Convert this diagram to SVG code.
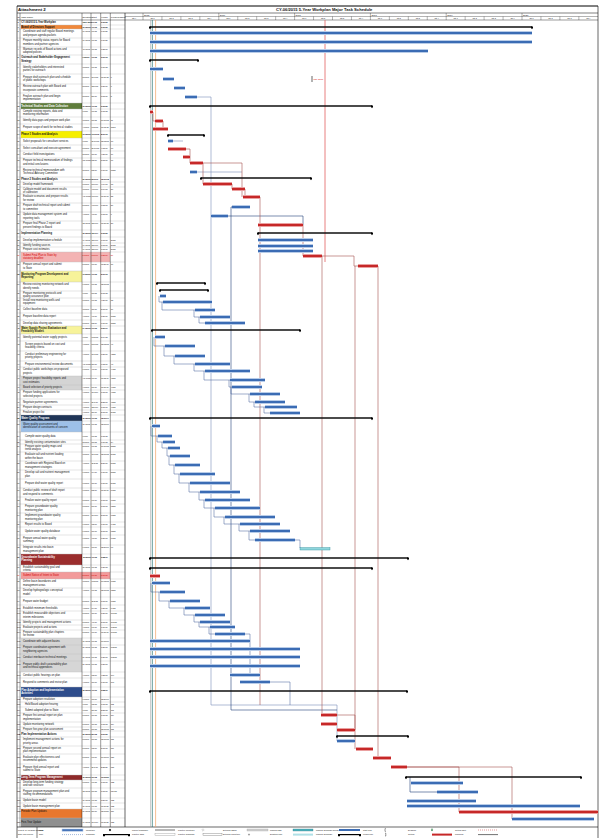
<svg xmlns="http://www.w3.org/2000/svg" width="602" height="840" viewBox="0 0 602 840">
<style>
.t{font-family:"Liberation Sans",Arial,sans-serif;font-size:2.6px;fill:#111}
.b{font-weight:bold}
.w{fill:#fff}
.rt{fill:#d40000}
.s{font-size:2px}
.i{font-size:2.1px}
.hd{font-family:"Liberation Sans",Arial,sans-serif;font-size:2.4px;fill:#111}
.q{font-family:"Liberation Sans",Arial,sans-serif;font-size:1.9px;fill:#111;text-anchor:middle}
.ln{stroke:#000;fill:none}
.g{stroke:#bdbdbd;stroke-width:0.4;fill:none}
.lg{font-family:"Liberation Sans",Arial,sans-serif;font-size:2.1px;fill:#111}
</style>
<defs>
<marker id="cap" markerUnits="userSpaceOnUse" markerWidth="3" markerHeight="4" refX="1" refY="0.6" orient="0" overflow="visible"><path d="M0 0H2V1.6L1 2.8L0 1.6Z" fill="#000"/></marker>
<path id="bB" fill="none" d="M150 33H532M150 42H532M150 51H428M150 69H163M163 79H174M174 88H185M185 97H197M168 141H173M190 172H197M232 207H250M211 216H228M258 240H313M258 246H313M258 251H313M160 296H166M163 302H212M195 310H215M200 317H230M205 323H245M155 337H165M165 346H195M175 356H205M195 364H230M205 371H250M230 380H265M232 387H262M250 394H280M255 402H285M265 407H297M270 413H300M152 426H160M158 436H172M163 442H175M168 448H180M170 456H190M175 465H200M180 474H215M190 483H230M200 492H240M205 500H250M215 508H260M225 517H275M240 524H280M250 531H290M255 540H295M152 583H170M160 592H185M170 601H200M185 608H210M195 615H225M200 622H230M210 627H235M215 634H245M150 641H250M150 649H300M150 657H300M150 666H300M230 675H260M240 682H270M337 741H355M411 783H463M437 792H478M407 801H476M407 806H580M512 819H594"/>
<path id="rB" fill="none" d="M150 112H153M155 121H163M153 129H168M168 149H186M183 157H190M190 163H203M203 184H232M232 189H245M243 197H260M258 225H303M303 256H322M358 266H378M150 576H160M321 715H337M321 724H337M337 730H355M356 749H373M373 758H391M391 767H407M459 812H598"/>
<path id="kB" fill="none" d="M150 27H532M150 60H198M150 106H372M168 135H204M201 178H311M258 233H372M157 283H205M160 290H208M152 330H300M150 418H372M150 558H408M150 568H372M150 691H407M337 736H408M406 777H581"/>
</defs>
<rect width="602" height="840" fill="#fff"/>

<g id="header">
<line x1="17" y1="6" x2="598" y2="6" stroke="#000" stroke-width="1"/>
<text class="t b" x="18" y="11.3" style="font-size:4.4px">Attachment 2</text>
<text class="t b" x="276" y="11.3" style="font-size:4.1px">CY-06/2015 5-Year Workplan Major Task Schedule</text>
<line x1="17" y1="13" x2="598" y2="13" stroke="#000" stroke-width="0.5"/>
<text class="hd" y="17.8"><tspan x="17.3">ID</tspan><tspan x="21.2">Task Name</tspan><tspan x="82.4">Duration</tspan><tspan x="91.6">Start</tspan><tspan x="101.2">Finish</tspan><tspan x="110.8">Predecessors</tspan></text>
<path class="ln" stroke-width="0.3" d="M125 16.5H598M143 13V20M218.8 13V20M294.6 13V20M370.4 13V20M446.2 13V20M522 13V20M161.95 16.5V20M180.9 16.5V20M199.85 16.5V20M237.75 16.5V20M256.7 16.5V20M275.65 16.5V20M313.55 16.5V20M332.5 16.5V20M351.45 16.5V20M389.35 16.5V20M408.3 16.5V20M427.25 16.5V20M465.15 16.5V20M484.1 16.5V20M503.05 16.5V20M540.95 16.5V20M559.9 16.5V20M578.85 16.5V20"/>
<g class="hd"><text x="144" y="15.7">2015</text><text x="219.8" y="15.7">2016</text><text x="295.6" y="15.7">2017</text><text x="371.4" y="15.7">2018</text><text x="447.2" y="15.7">2019</text><text x="523" y="15.7">2020</text></g>
<g class="q">
<text x="134" y="19.2">Qtr 4</text><text x="152.5" y="19.2">Qtr 1</text><text x="171.4" y="19.2">Qtr 2</text><text x="190.4" y="19.2">Qtr 3</text><text x="209.3" y="19.2">Qtr 4</text><text x="228.3" y="19.2">Qtr 1</text><text x="247.2" y="19.2">Qtr 2</text><text x="266.2" y="19.2">Qtr 3</text><text x="285.1" y="19.2">Qtr 4</text><text x="304.1" y="19.2">Qtr 1</text><text x="323" y="19.2">Qtr 2</text><text x="342" y="19.2">Qtr 3</text><text x="360.9" y="19.2">Qtr 4</text><text x="379.9" y="19.2">Qtr 1</text><text x="398.8" y="19.2">Qtr 2</text><text x="417.8" y="19.2">Qtr 3</text><text x="436.7" y="19.2">Qtr 4</text><text x="455.7" y="19.2">Qtr 1</text><text x="474.6" y="19.2">Qtr 2</text><text x="493.6" y="19.2">Qtr 3</text><text x="512.5" y="19.2">Qtr 4</text><text x="531.5" y="19.2">Qtr 1</text><text x="550.4" y="19.2">Qtr 2</text><text x="569.4" y="19.2">Qtr 3</text><text x="588.3" y="19.2">Qtr 4</text>
</g>
<line x1="17" y1="20" x2="598" y2="20" stroke="#000" stroke-width="0.4"/>
</g>

<g id="highlights">
<rect x="21" y="25" width="61" height="4" fill="#f0883a"/>
<rect x="21" y="103" width="61" height="6" fill="#5f7d3c"/>
<rect x="21" y="131" width="61" height="7" fill="#f6ef00"/>
<rect x="21" y="252" width="89" height="10" fill="#f3b3b3"/>
<rect x="21" y="271" width="61" height="11" fill="#f7f39a"/>
<rect x="21" y="326" width="61" height="8" fill="#f7f39a"/>
<rect x="21" y="376" width="61" height="14" fill="#d4d4d4"/>
<rect x="21" y="415" width="61" height="6" fill="#1f3557"/>
<rect x="21" y="421" width="61" height="11" fill="#9dc0e8"/>
<rect x="21" y="554" width="61" height="11" fill="#9b2d2d"/>
<rect x="21" y="572" width="89" height="7" fill="#f29a9a"/>
<rect x="21" y="638" width="61" height="34" fill="#d6d6d6"/>
<rect x="21" y="687" width="61" height="10" fill="#2e4d8c"/>
<rect x="21" y="775" width="61" height="5" fill="#8e2a2a"/>
<rect x="21" y="809" width="61" height="9" fill="#e8772e"/>
<rect x="21" y="818" width="61" height="9" fill="#8f8f8f"/>
</g>

<g id="grid">
<path class="g" d="M17 25H125M17 29H125M17 38H125M17 47H125M17 55H125M17 64H125M17 74H125M17 84H125M17 93H125M17 103H125M17 109H125M17 117H125M17 124H125M17 131H125M17 138H125M17 145H125M17 151H125M17 158H125M17 167H125M17 177H125M17 182H125M17 187H125M17 194H125M17 203H125M17 212H125M17 221H125M17 230H125M17 237H125M17 243H125M17 247H125M17 252H125M17 262H125M17 271H125M17 282H125M17 291H125M17 298H125M17 306H125M17 313H125M17 320H125M17 326H125M17 334H125M17 341H125M17 351H125M17 361H125M17 367H125M17 376H125M17 385H125M17 390H125M17 399H125M17 405H125M17 410H125M17 415H125M17 421H125M17 432H125M17 440H125M17 444H125M17 452H125M17 461H125M17 470H125M17 479H125M17 488H125M17 497H125M17 504H125M17 513H125M17 522H125M17 527H125M17 535H125M17 545H125M17 554H125M17 565H125M17 572H125M17 579H125M17 588H125M17 597H125M17 605H125M17 611H125M17 620H125M17 625H125M17 630H125M17 638H125M17 645H125M17 654H125M17 661H125M17 672H125M17 678H125M17 687H125M17 697H125M17 702H125M17 707H125M17 713H125M17 722H125M17 727H125M17 731H125M17 737H125M17 746H125M17 754H125M17 764H125M17 775H125M17 780H125M17 788H125M17 798H125M17 803H125M17 809H125M17 818H125"/>
<path class="ln" stroke-width="0.4" d="M20 13V827M82 13V827M91 13V827M100.7 13V827M110.3 13V827"/>
<path class="ln" stroke-width="0.6" d="M17 6V838M125 13V827M598 6V838M17 827H598"/>
</g>

<g id="rows">
<g id="r0"><text class="t b" y="23.4"><tspan class="i" x="17.4">0</tspan><tspan x="21.2">CY-06/2015 5-Year Workplan</tspan><tspan class="s" x="82.4">1260 days</tspan><tspan class="s" x="91.4">7/1/15</tspan><tspan class="s" x="101">6/30/20</tspan></text></g>
<g id="r1"><text class="t b" y="27.9"><tspan class="i" x="17.4">1</tspan><tspan x="21.2">Board of Directors Support</tspan><tspan class="s" x="82.4">60 mons</tspan><tspan class="s" x="91.4">7/1/15</tspan><tspan class="s" x="101">6/30/20</tspan></text></g>
<g id="r2"><text class="t" y="32.3"><tspan class="i" x="17.4">2</tspan><tspan x="23">Coordinate and staff regular Board meetings</tspan><tspan class="s" x="82.4">60 mons</tspan><tspan class="s" x="91.4">7/1/15</tspan><tspan class="s" x="101">6/30/20</tspan></text><text class="t" x="23" y="35.5">and prepare agenda packets</text></g>
<g id="r3"><text class="t" y="41.3"><tspan class="i" x="17.4">3</tspan><tspan x="23">Prepare monthly status reports for Board</tspan><tspan class="s" x="82.4">60 mons</tspan><tspan class="s" x="91.4">7/1/15</tspan><tspan class="s" x="101">6/30/20</tspan></text><text class="t" x="23" y="44.5">members and partner agencies</text></g>
<g id="r4"><text class="t" y="50.2"><tspan class="i" x="17.4">4</tspan><tspan x="23">Maintain records of Board actions and</tspan><tspan class="s" x="82.4">48 mons</tspan><tspan class="s" x="91.4">7/1/15</tspan><tspan class="s" x="101">6/28/19</tspan></text><text class="t" x="23" y="53.2">adopted policies</text></g>
<g id="r5"><text class="t b" y="58.3"><tspan class="i" x="17.4">5</tspan><tspan x="21.2">Outreach and Stakeholder Engagement</tspan><tspan class="s" x="82.4">9 mons</tspan><tspan class="s" x="91.4">7/1/15</tspan><tspan class="s" x="101">3/31/16</tspan></text><text class="t b" x="21.2" y="61.5">Strategy</text></g>
<g id="r6"><text class="t" y="67.6"><tspan class="i" x="17.4">6</tspan><tspan x="23">Identify stakeholders and interested</tspan><tspan class="s" x="82.4">3 mons</tspan><tspan class="s" x="91.4">7/1/15</tspan><tspan class="s" x="101">9/30/15</tspan></text><text class="t" x="23" y="70.8">parties for outreach</text></g>
<g id="r7"><text class="t" y="77.6"><tspan class="i" x="17.4">7</tspan><tspan x="23">Prepare draft outreach plan and schedule</tspan><tspan class="s" x="82.4">2 mons</tspan><tspan class="s" x="91.4">10/1/15</tspan><tspan class="s" x="101">11/30/15</tspan><tspan class="s" x="110.8">6</tspan></text><text class="t" x="23" y="80.8">of public workshops</text></g>
<g id="r8"><text class="t" y="87.3"><tspan class="i" x="17.4">8</tspan><tspan x="23">Review outreach plan with Board and</tspan><tspan class="s" x="82.4">2 mons</tspan><tspan class="s" x="91.4">12/1/15</tspan><tspan class="s" x="101">1/29/16</tspan><tspan class="s" x="110.8">7</tspan></text><text class="t" x="23" y="90.5">incorporate comments</text></g>
<g id="r9"><text class="t" y="96.6"><tspan class="i" x="17.4">9</tspan><tspan x="23">Finalize outreach plan and begin</tspan><tspan class="s" x="82.4">2 mons</tspan><tspan class="s" x="91.4">2/1/16</tspan><tspan class="s" x="101">3/31/16</tspan><tspan class="s" x="110.8">8</tspan></text><text class="t" x="23" y="99.8">implementation</text></g>
<g id="r10"><text class="t b" y="106.9"><tspan class="i" x="17.2">10</tspan><tspan class="w" x="21.2">Technical Studies and Data Collection</tspan><tspan class="s" x="82.4">60 mons</tspan><tspan class="s" x="91.4">7/1/15</tspan><tspan class="s" x="101">6/30/20</tspan></text></g>
<g id="r11"><text class="t" y="112.1"><tspan class="i" x="17.2">11</tspan><tspan x="23">Compile existing reports, data and</tspan><tspan class="s" x="82.4">1 mon</tspan><tspan class="s" x="91.4">7/1/15</tspan><tspan class="s" x="101">7/31/15</tspan></text><text class="t" x="23" y="115.1">monitoring information</text></g>
<g id="r12"><text class="t" y="121.4"><tspan class="i" x="17.2">12</tspan><tspan x="23">Identify data gaps and prepare work plan</tspan><tspan class="s" x="82.4">3 mons</tspan><tspan class="s" x="91.4">8/3/15</tspan><tspan class="s" x="101">10/30/15</tspan><tspan class="s" x="110.8">11</tspan></text></g>
<g id="r13"><text class="t" y="128.4"><tspan class="i" x="17.2">13</tspan><tspan x="23">Prepare scope of work for technical studies</tspan><tspan class="s" x="82.4">4 mons</tspan><tspan class="s" x="91.4">7/15/15</tspan><tspan class="s" x="101">11/13/15</tspan><tspan class="s" x="110.8">11SS</tspan></text></g>
<g id="r14"><text class="t b" y="135.4"><tspan class="i" x="17.2">14</tspan><tspan x="21.2">Phase 1 Studies and Analysis</tspan><tspan class="s" x="82.4">10 mons</tspan><tspan class="s" x="91.4">11/16/15</tspan><tspan class="s" x="101">8/31/16</tspan></text></g>
<g id="r15"><text class="t" y="142.4"><tspan class="i" x="17.2">15</tspan><tspan x="23">Solicit proposals for consultant services</tspan><tspan class="s" x="82.4">1 mon</tspan><tspan class="s" x="91.4">11/16/15</tspan><tspan class="s" x="101">12/15/15</tspan><tspan class="s" x="110.8">13</tspan></text></g>
<g id="r16"><text class="t" y="148.9"><tspan class="i" x="17.2">16</tspan><tspan x="23">Select consultant and execute agreement</tspan><tspan class="s" x="82.4">5 mons</tspan><tspan class="s" x="91.4">11/16/15</tspan><tspan class="s" x="101">4/15/16</tspan><tspan class="s" x="110.8">13</tspan></text></g>
<g id="r17"><text class="t" y="155.4"><tspan class="i" x="17.2">17</tspan><tspan x="23">Conduct field investigations</tspan><tspan class="s" x="82.4">2 mons</tspan><tspan class="s" x="91.4">3/1/16</tspan><tspan class="s" x="101">4/29/16</tspan><tspan class="s" x="110.8">16</tspan></text></g>
<g id="r18"><text class="t" y="161.3"><tspan class="i" x="17.2">18</tspan><tspan x="23">Prepare technical memorandum of findings</tspan><tspan class="s" x="82.4">3.5 mons</tspan><tspan class="s" x="91.4">5/2/16</tspan><tspan class="s" x="101">8/15/16</tspan><tspan class="s" x="110.8">17</tspan></text><text class="t" x="23" y="164.5">and initial conclusions</text></g>
<g id="r19"><text class="t" y="170.6"><tspan class="i" x="17.2">19</tspan><tspan x="23">Review technical memorandum with</tspan><tspan class="s" x="82.4">2 mons</tspan><tspan class="s" x="91.4">5/2/16</tspan><tspan class="s" x="101">6/30/16</tspan><tspan class="s" x="110.8">18SS</tspan></text><text class="t" x="23" y="173.8">Technical Advisory Committee</text></g>
<g id="r20"><text class="t b" y="180.4"><tspan class="i" x="17.2">20</tspan><tspan x="21.2">Phase 2 Studies and Analysis</tspan><tspan class="s" x="82.4">29 mons</tspan><tspan class="s" x="91.4">8/16/16</tspan><tspan class="s" x="101">12/31/18</tspan></text></g>
<g id="r21"><text class="t" y="185.4"><tspan class="i" x="17.2">21</tspan><tspan x="23">Develop model framework</tspan><tspan class="s" x="82.4">8 mons</tspan><tspan class="s" x="91.4">8/16/16</tspan><tspan class="s" x="101">4/14/17</tspan><tspan class="s" x="110.8">18</tspan></text></g>
<g id="r22"><text class="t" y="189.9"><tspan class="i" x="17.2">22</tspan><tspan x="23">Calibrate model and document results</tspan><tspan class="s" x="82.4">3 mons</tspan><tspan class="s" x="91.4">4/17/17</tspan><tspan class="s" x="101">7/14/17</tspan><tspan class="s" x="110.8">21</tspan></text><text class="t" x="23" y="192.8">of calibration</text></g>
<g id="r23"><text class="t" y="197.3"><tspan class="i" x="17.2">23</tspan><tspan x="23">Evaluate scenarios and prepare results</tspan><tspan class="s" x="82.4">4.5 mons</tspan><tspan class="s" x="91.4">7/17/17</tspan><tspan class="s" x="101">11/30/17</tspan><tspan class="s" x="110.8">22</tspan></text><text class="t" x="23" y="200.5">for review</text></g>
<g id="r24"><text class="t" y="206.3"><tspan class="i" x="17.2">24</tspan><tspan x="23">Prepare draft technical report and submit</tspan><tspan class="s" x="82.4">5 mons</tspan><tspan class="s" x="91.4">4/17/17</tspan><tspan class="s" x="101">9/15/17</tspan><tspan class="s" x="110.8">21</tspan></text><text class="t" x="23" y="209.5">to committee</text></g>
<g id="r25"><text class="t" y="215.3"><tspan class="i" x="17.2">25</tspan><tspan x="23">Update data management system and</tspan><tspan class="s" x="82.4">4 mons</tspan><tspan class="s" x="91.4">4/3/17</tspan><tspan class="s" x="101">7/31/17</tspan><tspan class="s" x="110.8">9</tspan></text><text class="t" x="23" y="218.5">reporting tools</text></g>
<g id="r26"><text class="t" y="224.3"><tspan class="i" x="17.2">26</tspan><tspan x="23">Prepare final Phase 2 report and</tspan><tspan class="s" x="82.4">12 mons</tspan><tspan class="s" x="91.4">12/1/17</tspan><tspan class="s" x="101">11/30/18</tspan><tspan class="s" x="110.8">23</tspan></text><text class="t" x="23" y="227.5">present findings to Board</text></g>
<g id="r27"><text class="t b" y="234.4"><tspan class="i" x="17.2">27</tspan><tspan x="21.2">Implementation Planning</tspan><tspan class="s" x="82.4">30 mons</tspan><tspan class="s" x="91.4">12/1/17</tspan><tspan class="s" x="101">6/30/20</tspan></text></g>
<g id="r28"><text class="t" y="240.9"><tspan class="i" x="17.2">28</tspan><tspan x="23">Develop implementation schedule</tspan><tspan class="s" x="82.4">14 mons</tspan><tspan class="s" x="91.4">12/1/17</tspan><tspan class="s" x="101">1/31/19</tspan><tspan class="s" x="110.8">26SS</tspan></text></g>
<g id="r29"><text class="t" y="245.9"><tspan class="i" x="17.2">29</tspan><tspan x="23">Identify funding sources</tspan><tspan class="s" x="82.4">14 mons</tspan><tspan class="s" x="91.4">12/1/17</tspan><tspan class="s" x="101">1/31/19</tspan><tspan class="s" x="110.8">26SS</tspan></text></g>
<g id="r30"><text class="t" y="250.4"><tspan class="i" x="17.2">30</tspan><tspan x="23">Prepare cost estimates</tspan><tspan class="s" x="82.4">14 mons</tspan><tspan class="s" x="91.4">12/1/17</tspan><tspan class="s" x="101">1/31/19</tspan><tspan class="s" x="110.8">26SS</tspan></text></g>
<g id="r31"><text class="t rt" y="255.6"><tspan class="i" x="17.2">31</tspan><tspan x="23">Submit Final Plan to State by</tspan><tspan class="s" x="82.4">5 mons</tspan><tspan class="s" x="91.4">1/31/19</tspan><tspan class="s" x="101">6/28/19</tspan><tspan class="s" x="110.8">26</tspan></text><text class="t rt" x="23" y="258.8">statutory deadline</text></g>
<g id="r32"><text class="t" y="265.3"><tspan class="i" x="17.2">32</tspan><tspan x="23">Prepare annual report and submit</tspan><tspan class="s" x="82.4">5 mons</tspan><tspan class="s" x="91.4">7/1/19</tspan><tspan class="s" x="101">11/29/19</tspan><tspan class="s" x="110.8">31</tspan></text><text class="t" x="23" y="268.5">to State</text></g>
<g id="r33"><text class="t b" y="274.8"><tspan class="i" x="17.2">33</tspan><tspan x="21.2">Monitoring Program Development and</tspan><tspan class="s" x="82.4">11 mons</tspan><tspan class="s" x="91.4">7/1/15</tspan><tspan class="s" x="101">5/31/16</tspan></text><text class="t b" x="21.2" y="278">Reporting</text></g>
<g id="r34"><text class="t" y="285.3"><tspan class="i" x="17.2">34</tspan><tspan x="23">Review existing monitoring network and</tspan><tspan class="s" x="82.4">6 mons</tspan><tspan class="s" x="91.4">7/1/15</tspan><tspan class="s" x="101">12/31/15</tspan></text><text class="t" x="23" y="288.5">identify needs</text></g>
<g id="r35"><text class="t" y="293.9"><tspan class="i" x="17.2">35</tspan><tspan x="23">Prepare monitoring protocols and</tspan><tspan class="s" x="82.4">1 mon</tspan><tspan class="s" x="91.4">8/3/15</tspan><tspan class="s" x="101">8/31/15</tspan></text><text class="t" x="23" y="296.8">quality assurance plan</text></g>
<g id="r36"><text class="t" y="301.1"><tspan class="i" x="17.2">36</tspan><tspan x="23">Install new monitoring wells and</tspan><tspan class="s" x="82.4">8 mons</tspan><tspan class="s" x="91.4">9/1/15</tspan><tspan class="s" x="101">4/29/16</tspan><tspan class="s" x="110.8">35</tspan></text><text class="t" x="23" y="304.1">equipment</text></g>
<g id="r37"><text class="t" y="310.4"><tspan class="i" x="17.2">37</tspan><tspan x="23">Collect baseline data</tspan><tspan class="s" x="82.4">3 mons</tspan><tspan class="s" x="91.4">3/1/16</tspan><tspan class="s" x="101">5/31/16</tspan><tspan class="s" x="110.8">36</tspan></text></g>
<g id="r38"><text class="t" y="317.4"><tspan class="i" x="17.2">38</tspan><tspan x="23">Prepare baseline data report</tspan><tspan class="s" x="82.4">4 mons</tspan><tspan class="s" x="91.4">4/1/16</tspan><tspan class="s" x="101">7/29/16</tspan><tspan class="s" x="110.8">37SS</tspan></text></g>
<g id="r39"><text class="t" y="323.9"><tspan class="i" x="17.2">39</tspan><tspan x="23">Develop data sharing agreements</tspan><tspan class="s" x="82.4">5 mons</tspan><tspan class="s" x="91.4">5/2/16</tspan><tspan class="s" x="101">9/30/16</tspan><tspan class="s" x="110.8">38SS</tspan></text></g>
<g id="r40"><text class="t b" y="329.1"><tspan class="i" x="17.2">40</tspan><tspan x="21.2">Water Supply Project Evaluation and</tspan><tspan class="s" x="82.4">24 mons</tspan><tspan class="s" x="91.4">7/1/15</tspan><tspan class="s" x="101">6/29/17</tspan></text><text class="t b" x="21.2" y="332.1">Feasibility Studies</text></g>
<g id="r41"><text class="t" y="338.4"><tspan class="i" x="17.2">41</tspan><tspan x="23">Identify potential water supply projects</tspan><tspan class="s" x="82.4">1 mon</tspan><tspan class="s" x="91.4">7/15/15</tspan><tspan class="s" x="101">8/14/15</tspan></text></g>
<g id="r42"><text class="t" y="344.6"><tspan class="i" x="17.2">42</tspan><tspan x="25">Screen projects based on cost and</tspan><tspan class="s" x="82.4">4 mons</tspan><tspan class="s" x="91.4">8/17/15</tspan><tspan class="s" x="101">12/15/15</tspan><tspan class="s" x="110.8">41</tspan></text><text class="t" x="25" y="347.8">feasibility criteria</text></g>
<g id="r43"><text class="t" y="354.6"><tspan class="i" x="17.2">43</tspan><tspan x="25">Conduct preliminary engineering for</tspan><tspan class="s" x="82.4">4 mons</tspan><tspan class="s" x="91.4">10/1/15</tspan><tspan class="s" x="101">1/29/16</tspan><tspan class="s" x="110.8">42SS</tspan></text><text class="t" x="25" y="357.8">priority projects</text></g>
<g id="r44"><text class="t" y="364.9"><tspan class="i" x="17.2">44</tspan><tspan x="25">Prepare environmental review documents</tspan><tspan class="s" x="82.4">4.5 mons</tspan><tspan class="s" x="91.4">2/1/16</tspan><tspan class="s" x="101">6/15/16</tspan><tspan class="s" x="110.8">43</tspan></text></g>
<g id="r45"><text class="t" y="370.3"><tspan class="i" x="17.2">45</tspan><tspan x="23">Conduct public workshops on proposed</tspan><tspan class="s" x="82.4">6 mons</tspan><tspan class="s" x="91.4">4/1/16</tspan><tspan class="s" x="101">9/30/16</tspan><tspan class="s" x="110.8">44SS</tspan></text><text class="t" x="23" y="373.5">projects</text></g>
<g id="r46"><text class="t" y="379.3"><tspan class="i" x="17.2">46</tspan><tspan x="23">Prepare project feasibility reports and</tspan><tspan class="s" x="82.4">4.5 mons</tspan><tspan class="s" x="91.4">7/1/16</tspan><tspan class="s" x="101">11/15/16</tspan><tspan class="s" x="110.8">45SS</tspan></text><text class="t" x="23" y="382.5">cost estimates</text></g>
<g id="r47"><text class="t" y="388.4"><tspan class="i" x="17.2">47</tspan><tspan x="23">Board selection of priority projects</tspan><tspan class="s" x="82.4">4 mons</tspan><tspan class="s" x="91.4">8/1/16</tspan><tspan class="s" x="101">11/30/16</tspan><tspan class="s" x="110.8">46SS</tspan></text></g>
<g id="r48"><text class="t" y="393.3"><tspan class="i" x="17.2">48</tspan><tspan x="23">Prepare funding applications for</tspan><tspan class="s" x="82.4">4 mons</tspan><tspan class="s" x="91.4">10/3/16</tspan><tspan class="s" x="101">1/31/17</tspan><tspan class="s" x="110.8">47SS</tspan></text><text class="t" x="23" y="396.5">selected projects</text></g>
<g id="r49"><text class="t" y="402.9"><tspan class="i" x="17.2">49</tspan><tspan x="23">Negotiate partner agreements</tspan><tspan class="s" x="82.4">4 mons</tspan><tspan class="s" x="91.4">11/1/16</tspan><tspan class="s" x="101">2/28/17</tspan><tspan class="s" x="110.8">48SS</tspan></text></g>
<g id="r50"><text class="t" y="408.4"><tspan class="i" x="17.2">50</tspan><tspan x="23">Prepare design contracts</tspan><tspan class="s" x="82.4">4 mons</tspan><tspan class="s" x="91.4">12/1/16</tspan><tspan class="s" x="101">3/31/17</tspan><tspan class="s" x="110.8">49SS</tspan></text></g>
<g id="r51"><text class="t" y="413.4"><tspan class="i" x="17.2">51</tspan><tspan x="23">Finalize project list</tspan><tspan class="s" x="82.4">4 mons</tspan><tspan class="s" x="91.4">2/1/17</tspan><tspan class="s" x="101">5/31/17</tspan><tspan class="s" x="110.8">50SS</tspan></text></g>
<g id="r52"><text class="t b" y="418.9"><tspan class="i" x="17.2">52</tspan><tspan class="w" x="21.2">Water Quality Program</tspan><tspan class="s" x="82.4">30 mons</tspan><tspan class="s" x="91.4">7/1/15</tspan><tspan class="s" x="101">12/31/17</tspan></text></g>
<g id="r53"><text class="t" y="424.8"><tspan class="i" x="17.2">53</tspan><tspan x="23">Water quality assessment and</tspan><tspan class="s" x="82.4">30 mons</tspan><tspan class="s" x="91.4">7/1/15</tspan><tspan class="s" x="101">12/31/17</tspan></text><text class="t" x="23" y="428">identification of constituents of concern</text></g>
<g id="r54"><text class="t" y="436.9"><tspan class="i" x="17.2">54</tspan><tspan x="25">Compile water quality data</tspan><tspan class="s" x="82.4">1 mon</tspan><tspan class="s" x="91.4">7/1/15</tspan><tspan class="s" x="101">7/31/15</tspan></text></g>
<g id="r55"><text class="t" y="442.9"><tspan class="i" x="17.2">55</tspan><tspan x="25">Identify existing contamination sites</tspan><tspan class="s" x="82.4">2 mons</tspan><tspan class="s" x="91.4">8/3/15</tspan><tspan class="s" x="101">9/30/15</tspan><tspan class="s" x="110.8">54</tspan></text></g>
<g id="r56"><text class="t" y="447.1"><tspan class="i" x="17.2">56</tspan><tspan x="25">Prepare water quality maps and</tspan><tspan class="s" x="82.4">2 mons</tspan><tspan class="s" x="91.4">9/1/15</tspan><tspan class="s" x="101">10/30/15</tspan><tspan class="s" x="110.8">55SS</tspan></text><text class="t" x="25" y="450.1">trend analysis</text></g>
<g id="r57"><text class="t" y="455.3"><tspan class="i" x="17.2">57</tspan><tspan x="25">Evaluate salt and nutrient loading</tspan><tspan class="s" x="82.4">3 mons</tspan><tspan class="s" x="91.4">10/1/15</tspan><tspan class="s" x="101">12/31/15</tspan><tspan class="s" x="110.8">56SS</tspan></text><text class="t" x="25" y="458.5">within the basin</text></g>
<g id="r58"><text class="t" y="464.3"><tspan class="i" x="17.2">58</tspan><tspan x="25">Coordinate with Regional Board on</tspan><tspan class="s" x="82.4">4 mons</tspan><tspan class="s" x="91.4">11/2/15</tspan><tspan class="s" x="101">2/29/16</tspan><tspan class="s" x="110.8">57SS</tspan></text><text class="t" x="25" y="467.5">management strategies</text></g>
<g id="r59"><text class="t" y="473.3"><tspan class="i" x="17.2">59</tspan><tspan x="25">Develop salt and nutrient management</tspan><tspan class="s" x="82.4">6 mons</tspan><tspan class="s" x="91.4">1/4/16</tspan><tspan class="s" x="101">6/30/16</tspan><tspan class="s" x="110.8">58SS</tspan></text><text class="t" x="25" y="476.5">plan</text></g>
<g id="r60"><text class="t" y="484.4"><tspan class="i" x="17.2">60</tspan><tspan x="25">Prepare draft water quality report</tspan><tspan class="s" x="82.4">7 mons</tspan><tspan class="s" x="91.4">3/1/16</tspan><tspan class="s" x="101">9/30/16</tspan><tspan class="s" x="110.8">59SS</tspan></text></g>
<g id="r61"><text class="t" y="491.3"><tspan class="i" x="17.2">61</tspan><tspan x="23">Conduct public review of draft report</tspan><tspan class="s" x="82.4">7 mons</tspan><tspan class="s" x="91.4">5/2/16</tspan><tspan class="s" x="101">11/30/16</tspan><tspan class="s" x="110.8">60SS</tspan></text><text class="t" x="23" y="494.5">and respond to comments</text></g>
<g id="r62"><text class="t" y="501.4"><tspan class="i" x="17.2">62</tspan><tspan x="25">Finalize water quality report</tspan><tspan class="s" x="82.4">8 mons</tspan><tspan class="s" x="91.4">6/1/16</tspan><tspan class="s" x="101">1/31/17</tspan><tspan class="s" x="110.8">61SS</tspan></text></g>
<g id="r63"><text class="t" y="507.3"><tspan class="i" x="17.2">63</tspan><tspan x="25">Prepare groundwater quality</tspan><tspan class="s" x="82.4">8 mons</tspan><tspan class="s" x="91.4">8/1/16</tspan><tspan class="s" x="101">3/31/17</tspan><tspan class="s" x="110.8">62SS</tspan></text><text class="t" x="25" y="510.5">monitoring plan</text></g>
<g id="r64"><text class="t" y="516.3"><tspan class="i" x="17.2">64</tspan><tspan x="25">Implement groundwater quality</tspan><tspan class="s" x="82.4">8 mons</tspan><tspan class="s" x="91.4">10/3/16</tspan><tspan class="s" x="101">5/31/17</tspan><tspan class="s" x="110.8">63SS</tspan></text><text class="t" x="25" y="519.5">monitoring plan</text></g>
<g id="r65"><text class="t" y="525.4"><tspan class="i" x="17.2">65</tspan><tspan x="25">Report results to Board</tspan><tspan class="s" x="82.4">6 mons</tspan><tspan class="s" x="91.4">1/2/17</tspan><tspan class="s" x="101">6/30/17</tspan><tspan class="s" x="110.8">64SS</tspan></text></g>
<g id="r66"><text class="t" y="531.9"><tspan class="i" x="17.2">66</tspan><tspan x="25">Update water quality database</tspan><tspan class="s" x="82.4">6 mons</tspan><tspan class="s" x="91.4">3/1/17</tspan><tspan class="s" x="101">8/31/17</tspan><tspan class="s" x="110.8">65SS</tspan></text></g>
<g id="r67"><text class="t" y="538.6"><tspan class="i" x="17.2">67</tspan><tspan x="23">Prepare annual water quality</tspan><tspan class="s" x="82.4">6 mons</tspan><tspan class="s" x="91.4">4/3/17</tspan><tspan class="s" x="101">9/29/17</tspan><tspan class="s" x="110.8">66SS</tspan></text><text class="t" x="23" y="541.8">summary</text></g>
<g id="r68"><text class="t" y="548.3"><tspan class="i" x="17.2">68</tspan><tspan x="23">Integrate results into basin</tspan><tspan class="s" x="82.4">6 mons</tspan><tspan class="s" x="91.4">7/3/17</tspan><tspan class="s" x="101">12/29/17</tspan><tspan class="s" x="110.8">67</tspan></text><text class="t" x="23" y="551.5">management plan</text></g>
<g id="r69"><text class="t b" y="557.8"><tspan class="i" x="17.2">69</tspan><tspan class="w" x="21.2">Groundwater Sustainability</tspan><tspan class="s" x="82.4">48 mons</tspan><tspan class="s" x="91.4">7/1/15</tspan><tspan class="s" x="101">6/28/19</tspan></text><text class="t b w" x="21.2" y="561">Planning</text></g>
<g id="r70"><text class="t" y="567.6"><tspan class="i" x="17.2">70</tspan><tspan x="23">Establish sustainability goal and</tspan><tspan class="s" x="82.4">36 mons</tspan><tspan class="s" x="91.4">7/1/15</tspan><tspan class="s" x="101">6/29/18</tspan></text><text class="t" x="23" y="570.6">criteria</text></g>
<g id="r71"><text class="t rt" y="576.4"><tspan class="i" x="17.2">71</tspan><tspan x="23">Submit Notice of Intent to State</tspan><tspan class="s" x="82.4">2 mons</tspan><tspan class="s" x="91.4">7/1/15</tspan><tspan class="s" x="101">8/31/15</tspan></text></g>
<g id="r72"><text class="t" y="582.3"><tspan class="i" x="17.2">72</tspan><tspan x="23">Define basin boundaries and</tspan><tspan class="s" x="82.4">3 mons</tspan><tspan class="s" x="91.4">7/15/15</tspan><tspan class="s" x="101">10/15/15</tspan><tspan class="s" x="110.8">71SS</tspan></text><text class="t" x="23" y="585.5">management areas</text></g>
<g id="r73"><text class="t" y="591.3"><tspan class="i" x="17.2">73</tspan><tspan x="23">Develop hydrogeologic conceptual</tspan><tspan class="s" x="82.4">4 mons</tspan><tspan class="s" x="91.4">9/1/15</tspan><tspan class="s" x="101">12/31/15</tspan><tspan class="s" x="110.8">72SS</tspan></text><text class="t" x="23" y="594.5">model</text></g>
<g id="r74"><text class="t" y="601.9"><tspan class="i" x="17.2">74</tspan><tspan x="23">Prepare water budget</tspan><tspan class="s" x="82.4">5 mons</tspan><tspan class="s" x="91.4">11/2/15</tspan><tspan class="s" x="101">3/31/16</tspan><tspan class="s" x="110.8">73SS</tspan></text></g>
<g id="r75"><text class="t" y="608.9"><tspan class="i" x="16.9">100</tspan><tspan x="23">Establish minimum thresholds</tspan><tspan class="s" x="82.4">4 mons</tspan><tspan class="s" x="91.4">1/4/16</tspan><tspan class="s" x="101">4/29/16</tspan><tspan class="s" x="110.8">74SS</tspan></text></g>
<g id="r76"><text class="t" y="614.3"><tspan class="i" x="16.9">101</tspan><tspan x="23">Establish measurable objectives and</tspan><tspan class="s" x="82.4">5 mons</tspan><tspan class="s" x="91.4">3/1/16</tspan><tspan class="s" x="101">7/29/16</tspan><tspan class="s" x="110.8">100SS</tspan></text><text class="t" x="23" y="617.5">interim milestones</text></g>
<g id="r77"><text class="t" y="623.4"><tspan class="i" x="16.9">102</tspan><tspan x="23">Identify projects and management actions</tspan><tspan class="s" x="82.4">5 mons</tspan><tspan class="s" x="91.4">4/1/16</tspan><tspan class="s" x="101">8/31/16</tspan><tspan class="s" x="110.8">101SS</tspan></text></g>
<g id="r78"><text class="t" y="628.4"><tspan class="i" x="16.9">103</tspan><tspan x="23">Evaluate projects and actions</tspan><tspan class="s" x="82.4">4 mons</tspan><tspan class="s" x="91.4">6/1/16</tspan><tspan class="s" x="101">9/30/16</tspan><tspan class="s" x="110.8">102SS</tspan></text></g>
<g id="r79"><text class="t" y="633.1"><tspan class="i" x="16.9">104</tspan><tspan x="23">Prepare sustainability plan chapters</tspan><tspan class="s" x="82.4">5 mons</tspan><tspan class="s" x="91.4">7/1/16</tspan><tspan class="s" x="101">11/30/16</tspan><tspan class="s" x="110.8">103SS</tspan></text><text class="t" x="23" y="636.1">for review</text></g>
<g id="r80"><text class="t" y="642.4"><tspan class="i" x="16.9">105</tspan><tspan x="23">Coordinate with adjacent basins</tspan><tspan class="s" x="82.4">16 mons</tspan><tspan class="s" x="91.4">7/1/15</tspan><tspan class="s" x="101">10/31/16</tspan></text></g>
<g id="r81"><text class="t" y="648.3"><tspan class="i" x="16.9">106</tspan><tspan x="23">Prepare coordination agreement with</tspan><tspan class="s" x="82.4">24 mons</tspan><tspan class="s" x="91.4">7/1/15</tspan><tspan class="s" x="101">6/29/17</tspan><tspan class="s" x="110.8">105SS</tspan></text><text class="t" x="23" y="651.5">neighboring agencies</text></g>
<g id="r82"><text class="t" y="658.4"><tspan class="i" x="16.9">107</tspan><tspan x="23">Conduct interbasin technical meetings</tspan><tspan class="s" x="82.4">24 mons</tspan><tspan class="s" x="91.4">7/1/15</tspan><tspan class="s" x="101">6/29/17</tspan><tspan class="s" x="110.8">105SS</tspan></text></g>
<g id="r83"><text class="t" y="664.8"><tspan class="i" x="16.9">108</tspan><tspan x="23">Prepare public draft sustainability plan</tspan><tspan class="s" x="82.4">24 mons</tspan><tspan class="s" x="91.4">7/1/15</tspan><tspan class="s" x="101">6/29/17</tspan></text><text class="t" x="23" y="668">and technical appendices</text></g>
<g id="r84"><text class="t" y="675.9"><tspan class="i" x="16.9">109</tspan><tspan x="23">Conduct public hearings on plan</tspan><tspan class="s" x="82.4">4 mons</tspan><tspan class="s" x="91.4">1/2/17</tspan><tspan class="s" x="101">4/28/17</tspan><tspan class="s" x="110.8">104</tspan></text></g>
<g id="r85"><text class="t" y="683.4"><tspan class="i" x="16.9">110</tspan><tspan x="23">Respond to comments and revise plan</tspan><tspan class="s" x="82.4">4 mons</tspan><tspan class="s" x="91.4">3/1/17</tspan><tspan class="s" x="101">6/30/17</tspan><tspan class="s" x="110.8">109</tspan></text></g>
<g id="r86"><text class="t b" y="690.6"><tspan class="i" x="16.9">111</tspan><tspan class="w" x="21.2">Plan Adoption and Implementation</tspan><tspan class="s" x="82.4">36 mons</tspan><tspan class="s" x="91.4">7/1/16</tspan><tspan class="s" x="101">6/28/19</tspan></text><text class="t b w" x="21.2" y="693.8">Activities</text></g>
<g id="r87"><text class="t" y="700.4"><tspan class="i" x="16.9">112</tspan><tspan x="23">Prepare adoption resolution</tspan><tspan class="s" x="82.4">6 mons</tspan><tspan class="s" x="91.4">7/3/17</tspan><tspan class="s" x="101">12/29/17</tspan></text></g>
<g id="r88"><text class="t" y="705.4"><tspan class="i" x="16.9">113</tspan><tspan x="25">Hold Board adoption hearing</tspan><tspan class="s" x="82.4">1 mon</tspan><tspan class="s" x="91.4">1/2/18</tspan><tspan class="s" x="101">1/31/18</tspan><tspan class="s" x="110.8">112</tspan></text></g>
<g id="r89"><text class="t" y="710.9"><tspan class="i" x="16.9">114</tspan><tspan x="25">Submit adopted plan to State</tspan><tspan class="s" x="82.4">1 mon</tspan><tspan class="s" x="91.4">2/1/18</tspan><tspan class="s" x="101">2/28/18</tspan><tspan class="s" x="110.8">113</tspan></text></g>
<g id="r90"><text class="t" y="716.3"><tspan class="i" x="16.9">115</tspan><tspan x="23">Prepare first annual report on plan</tspan><tspan class="s" x="82.4">5 mons</tspan><tspan class="s" x="91.4">3/1/18</tspan><tspan class="s" x="101">7/31/18</tspan><tspan class="s" x="110.8">114</tspan></text><text class="t" x="23" y="719.5">implementation</text></g>
<g id="r91"><text class="t" y="725.4"><tspan class="i" x="16.9">116</tspan><tspan x="23">Update monitoring network</tspan><tspan class="s" x="82.4">5 mons</tspan><tspan class="s" x="91.4">3/1/18</tspan><tspan class="s" x="101">7/31/18</tspan><tspan class="s" x="110.8">114</tspan></text></g>
<g id="r92"><text class="t" y="729.9"><tspan class="i" x="16.9">117</tspan><tspan x="23">Prepare five-year plan assessment</tspan><tspan class="s" x="82.4">5 mons</tspan><tspan class="s" x="91.4">8/1/18</tspan><tspan class="s" x="101">12/31/18</tspan><tspan class="s" x="110.8">115</tspan></text></g>
<g id="r93"><text class="t b" y="734.9"><tspan class="i" x="16.9">118</tspan><tspan x="21.2">Plan Implementation Actions</tspan><tspan class="s" x="82.4">20 mons</tspan><tspan class="s" x="91.4">8/1/18</tspan><tspan class="s" x="101">3/31/20</tspan></text></g>
<g id="r94"><text class="t" y="740.3"><tspan class="i" x="16.9">119</tspan><tspan x="23">Implement management actions for</tspan><tspan class="s" x="82.4">5 mons</tspan><tspan class="s" x="91.4">8/1/18</tspan><tspan class="s" x="101">12/31/18</tspan><tspan class="s" x="110.8">115</tspan></text><text class="t" x="23" y="743.5">priority areas</text></g>
<g id="r95"><text class="t" y="749.2"><tspan class="i" x="16.9">120</tspan><tspan x="23">Prepare second annual report on</tspan><tspan class="s" x="82.4">5 mons</tspan><tspan class="s" x="91.4">1/2/19</tspan><tspan class="s" x="101">5/31/19</tspan><tspan class="s" x="110.8">117</tspan></text><text class="t" x="23" y="752.2">plan implementation</text></g>
<g id="r96"><text class="t" y="757.6"><tspan class="i" x="16.9">121</tspan><tspan x="23">Evaluate plan effectiveness and</tspan><tspan class="s" x="82.4">5 mons</tspan><tspan class="s" x="91.4">6/3/19</tspan><tspan class="s" x="101">10/31/19</tspan><tspan class="s" x="110.8">120</tspan></text><text class="t" x="23" y="760.8">recommend updates</text></g>
<g id="r97"><text class="t" y="767.8"><tspan class="i" x="16.9">122</tspan><tspan x="23">Prepare third annual report and</tspan><tspan class="s" x="82.4">4 mons</tspan><tspan class="s" x="91.4">11/1/19</tspan><tspan class="s" x="101">2/28/20</tspan><tspan class="s" x="110.8">121</tspan></text><text class="t" x="23" y="771">submit to State</text></g>
<g id="r98"><text class="t b" y="778.4"><tspan class="i" x="16.9">123</tspan><tspan class="w" x="21.2">Long-Term Program Management</tspan><tspan class="s" x="82.4">30 mons</tspan><tspan class="s" x="91.4">6/1/18</tspan><tspan class="s" x="101">10/30/20</tspan></text></g>
<g id="r99"><text class="t" y="783.1"><tspan class="i" x="16.9">124</tspan><tspan x="23">Develop long-term funding strategy</tspan><tspan class="s" x="82.4">8 mons</tspan><tspan class="s" x="91.4">6/1/18</tspan><tspan class="s" x="101">1/31/19</tspan><tspan class="s" x="110.8">122</tspan></text><text class="t" x="23" y="786.1">and rate structure</text></g>
<g id="r100"><text class="t" y="791.6"><tspan class="i" x="16.9">125</tspan><tspan x="23">Prepare program management plan and</tspan><tspan class="s" x="82.4">12 mons</tspan><tspan class="s" x="91.4">8/1/18</tspan><tspan class="s" x="101">7/31/19</tspan><tspan class="s" x="110.8">124SS</tspan></text><text class="t" x="23" y="794.8">staffing recommendations</text></g>
<g id="r101"><text class="t" y="801.4"><tspan class="i" x="16.9">126</tspan><tspan x="23">Update basin model</tspan><tspan class="s" x="82.4">10 mons</tspan><tspan class="s" x="91.4">6/1/18</tspan><tspan class="s" x="101">3/29/19</tspan><tspan class="s" x="110.8">122</tspan></text></g>
<g id="r102"><text class="t" y="806.9"><tspan class="i" x="16.9">127</tspan><tspan x="23">Update basin management plan</tspan><tspan class="s" x="82.4">30 mons</tspan><tspan class="s" x="91.4">6/1/18</tspan><tspan class="s" x="101">11/30/20</tspan><tspan class="s" x="110.8">122</tspan></text></g>
<g id="r103"><text class="t" y="812.3"><tspan class="i" x="16.9">128</tspan><tspan x="21.2">Periodic Plan Updates</tspan><tspan class="s" x="82.4">24 mons</tspan><tspan class="s" x="91.4">2/1/19</tspan><tspan class="s" x="101">12/31/20</tspan><tspan class="s" x="110.8">119</tspan></text></g>
<g id="r104"><text class="t" y="823.4"><tspan class="i" x="16.9">129</tspan><tspan x="21.2">Five-Year Update</tspan><tspan class="s" x="82.4">14 mons</tspan><tspan class="s" x="91.4">10/1/19</tspan><tspan class="s" x="101">11/30/20</tspan><tspan class="s" x="110.8">125</tspan></text></g>
</g>

<g id="timelines">
<line x1="150.5" y1="20" x2="150.5" y2="827" stroke="#9a9a9a" stroke-width="0.5"/>
<line x1="152.3" y1="20" x2="152.3" y2="827" stroke="#1f6f6a" stroke-width="0.7"/>
<line x1="155.6" y1="20" x2="155.6" y2="827" stroke="#f2a365" stroke-width="0.7"/>
<line x1="325" y1="20" x2="325" y2="262" stroke="#e57373" stroke-width="0.9"/>
<line x1="312" y1="76" x2="312" y2="82" stroke="#000" stroke-width="0.6"/>
<text class="t rt" x="313.5" y="80" style="font-size:2.2px">May 2017</text>
</g>

<g id="connectors" fill="none" stroke-width="0.6">
<path stroke="#7b8fb8" d="M197 97H211V705H337V741M190 172H242M173 141H183"/>
<path stroke="#24407a" d="M250 207H231V710H337M228 216H303V225"/>
<path stroke="#a5524f" d="M153 112V121H155M163 121V129M186 149H190V163M183 157H190M203 163V184M232 184V189M245 189V197H243M190 163H242V197M260 197V225H258M303 225V256M322 256H354V266H358M322 256V715M355 266V749M378 266V758M337 715H355V730M407 767H512V819M407 767H459V812M260 225V705"/>
<path stroke="#24407a" d="M410 777V792H437"/>
<path stroke="#3c5a96" stroke-width="0.5" d="M159 296V302H163M162 302V310H195M194 310V317H200M199 317V323H205M154 337V346H165M164 346V356H175M174 356V364H195M194 364V371H205M204 371V380H230M229 380V387H232M231 387V394H250M249 394V402H255M254 402V407H265M264 407V413H270M151 426V436H158M157 436V442H163M162 442V448H168M167 448V456H170M169 456V465H175M174 465V474H180M179 474V483H190M189 483V492H200M199 492V500H205M204 500V508H215M214 508V517H225M224 517V524H240M239 524V531H250M249 531V540H255M295 540H300V548M151 583V592H160M159 592V601H170M169 601V608H185M184 608V615H195M194 615V622H200M199 622V627H210M209 627V634H215M245 634H250V675H230M270 682H290V705"/>
</g>

<g id="bars">
<use href="#bB" stroke="#b8cce8" stroke-width="4"/>
<use href="#bB" stroke="#3b6cb4" stroke-width="2"/>
<use href="#rB" stroke="#eaa0a0" stroke-width="4"/>
<use href="#rB" stroke="#c62828" stroke-width="2"/>
<use href="#kB" stroke="#111" stroke-width="1.6" marker-start="url(#cap)" marker-mid="url(#cap)" marker-end="url(#cap)"/>
<rect x="300" y="547.6" width="30" height="2.4" fill="#8fd6dd" stroke="#2a8a99" stroke-width="0.4"/>
</g>

<g id="legend">
<line x1="37" y1="827" x2="37" y2="838" stroke="#000" stroke-width="0.5"/>
<text class="lg" x="18" y="831" style="font-size:1.9px">Project: CY-06/2015 Workplan</text>
<text class="lg" x="18" y="835.3" style="font-size:1.9px">Date: Thu 6/11/15</text>
<text class="lg" x="39" y="831">Task</text><text class="lg" x="39" y="835.4">Split</text>
<rect x="62" y="829" width="21" height="2.2" fill="#3b6cb4" stroke="#b8cce8" stroke-width="0.6"/>
<line x1="62" y1="834.6" x2="83" y2="834.6" stroke="#3b6cb4" stroke-width="0.7" stroke-dasharray="0.7 1.3"/>
<text class="lg" x="86" y="831">Milestone</text><text class="lg" x="86" y="835.4">Summary</text>
<path d="M110 828.8l1.2 1.2-1.2 1.2-1.2-1.2z" fill="#000"/>
<path d="M104 834.6H129" stroke="#000" stroke-width="1.2" marker-start="url(#cap)" marker-end="url(#cap)"/>
<text class="lg" x="132" y="831">Project Summary</text><text class="lg" x="132" y="835.4">Inactive Task</text>
<path d="M155 830H175" stroke="#9a9a9a" stroke-width="1.4"/>
<rect x="155" y="833.8" width="20" height="1.6" fill="none" stroke="#9a9a9a" stroke-width="0.4"/>
<text class="lg" x="178" y="831">Inactive Milestone</text><text class="lg" x="178" y="835.4">Inactive Summary</text>
<path d="M203 828.8l1.2 1.2-1.2 1.2-1.2-1.2z" fill="none" stroke="#777" stroke-width="0.3"/>
<rect x="203" y="833.8" width="19" height="1.4" fill="none" stroke="#777" stroke-width="0.4"/>
<text class="lg" x="223" y="831">External Tasks</text><text class="lg" x="223" y="835.4">External Milestone</text>
<rect x="247" y="829" width="21" height="2" fill="#d2d2d2" stroke="#9a9a9a" stroke-width="0.3"/>
<path d="M249 833.4l1.2 1.2-1.2 1.2-1.2-1.2z" fill="#9a9a9a"/>
<text class="lg" x="270" y="831">Manual Task</text><text class="lg" x="270" y="835.4">Duration-only</text>
<rect x="293" y="829" width="20" height="2" fill="#4fb3bf" stroke="#1b6f7a" stroke-width="0.3"/>
<rect x="293" y="833.6" width="20" height="2" fill="#b0e0e6"/>
<text class="lg" x="316" y="831">Manual Summary Rollup</text><text class="lg" x="316" y="835.4">Manual Summary</text>
<rect x="339" y="829" width="21" height="2" fill="#3b6cb4"/>
<path d="M339 834.6H360" stroke="#000" stroke-width="1.2" marker-start="url(#cap)" marker-end="url(#cap)"/>
<text class="lg" x="363" y="831">Start-only</text><text class="lg" x="363" y="835.4">Finish-only</text>
<path d="M385.8 828.6H385V831.4H385.8M385 833.2H385.8V836H385" fill="none" stroke="#000" stroke-width="0.4"/>
<text class="lg" x="408" y="831">Deadline</text><text class="lg" x="408" y="835.4">Critical</text>
<path d="M431.6 828.4h0.8v1.4h0.8l-1.2 1.4-1.2-1.4h0.8z" fill="#1a7a3a"/>
<rect x="432" y="833.6" width="20" height="2" fill="#c62828"/>
<text class="lg" x="455" y="831">Critical Split</text><text class="lg" x="455" y="835.4">Progress</text>
<line x1="478" y1="830" x2="498" y2="830" stroke="#c62828" stroke-width="0.7" stroke-dasharray="0.7 1.3"/>
<line x1="478" y1="834.6" x2="498" y2="834.6" stroke="#111" stroke-width="0.6"/>
</g>
</svg>
